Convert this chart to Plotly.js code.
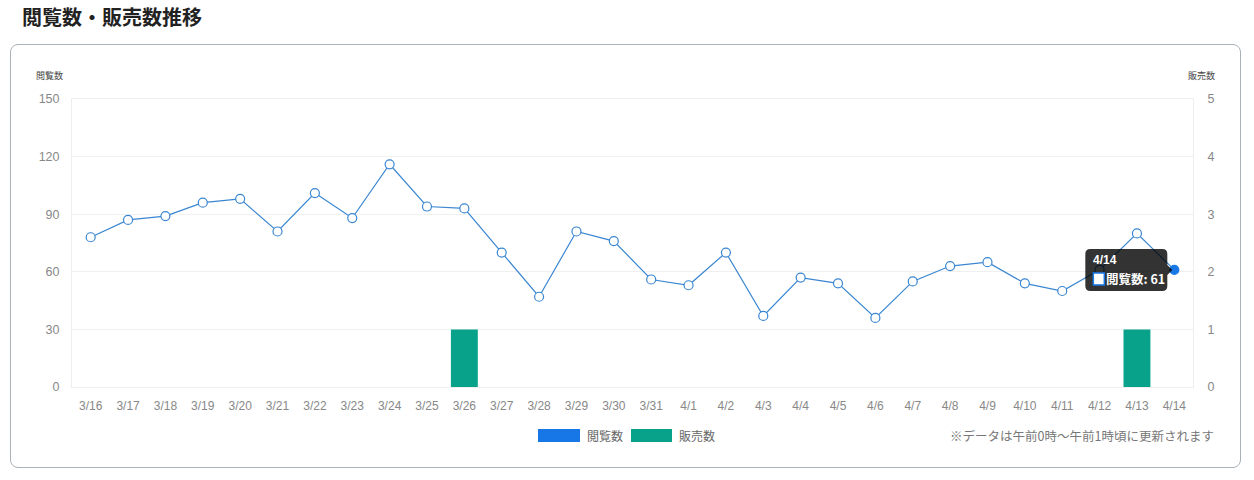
<!DOCTYPE html>
<html><head><meta charset="utf-8">
<script src="https://cdn.plot.ly/plotly-3.0.1.min.js"></script>
<style>
html,body{margin:0;padding:0;background:#fff;}
#wrap{position:relative;width:1254px;height:480px;}
#card{position:absolute;left:10px;top:44px;width:1229px;height:422px;border:1px solid #aab3b8;border-radius:8px;}
#chart{position:absolute;left:0;top:0;width:1254px;height:480px;}
</style></head>
<body><div id="wrap"><div id="card"></div><div id="chart"></div></div>
<script>
const dates = ['3/16','3/17','3/18','3/19','3/20','3/21','3/22','3/23','3/24','3/25','3/26','3/27','3/28','3/29','3/30','3/31','4/1','4/2','4/3','4/4','4/5','4/6','4/7','4/8','4/9','4/10','4/11','4/12','4/13','4/14'];
const views = [78,87,89,96,98,81,101,88,116,94,93,70,47,81,76,56,53,70,37,57,54,36,55,63,65,54,50,61,80,61];
const sales = [0,0,0,0,0,0,0,0,0,0,1,0,0,0,0,0,0,0,0,0,0,0,0,0,0,0,0,0,1,0];
const leftTicks = [0,30,60,90,120,150];
const rightTicks = [0,1,2,3,4,5];
const chartTitle = '閲覧数・販売数推移';
const viewsName = '閲覧数';
const salesName = '販売数';
const footnote = '※データは午前0時～午前1時頃に更新されます';
const hoverIndex = 29;

const BLUE = '#1877e6', LINE = '#3a86d1', GREEN = '#08a28a';
const FONT = 'Liberation Sans, Arial, Noto Sans CJK JP, sans-serif';
const JFONT = 'Noto Sans CJK JP, sans-serif';

// pixel -> paper helpers (plot area: x 72..1193, y 99..387)
const L=72, R=1193, T=99, B=387;
const pxX = x => (x-L)/(R-L);
const pxY = y => (B-y)/(B-T);

const markerColors = views.map((v,i)=> i===hoverIndex ? BLUE : '#ffffff');
const markerLineColors = views.map((v,i)=> i===hoverIndex ? BLUE : LINE);

const traces = [
  {type:'bar', x:dates, y:sales, yaxis:'y2', name:salesName, marker:{color:GREEN}, showlegend:false, hoverinfo:'skip'},
  {type:'scatter', mode:'lines+markers', x:dates, y:views, yaxis:'y', name:viewsName,
   line:{color:LINE, width:1.2},
   marker:{size:9, color:markerColors, line:{color:markerLineColors, width:1.2}},
   showlegend:false, hoverinfo:'skip'}
];

const hx = dates[hoverIndex], hy = views[hoverIndex];

const shapes = [
  {type:'path', xref:'x', yref:'y', xsizemode:'pixel', ysizemode:'pixel', xanchor:hx, yanchor:hy,
   path:'M -84 21 L -12 21 Q -7 21 -7 16 L -7 5 L -2 0 L -7 -5 L -7 -16 Q -7 -21 -12 -21 L -84 -21 Q -89 -21 -89 -16 L -89 16 Q -89 21 -84 21 Z',
   fillcolor:'rgba(0,0,0,0.8)', line:{width:0}, layer:'above'},
  {type:'rect', xref:'x', yref:'y', xsizemode:'pixel', ysizemode:'pixel', xanchor:hx, yanchor:hy,
   x0:-81, x1:-70, y0:-15, y1:-3, fillcolor:'#ffffff', line:{color:BLUE, width:1.5}, layer:'above'},
  {type:'rect', xref:'paper', yref:'paper', x0:pxX(538), x1:pxX(580), y0:pxY(442), y1:pxY(429), fillcolor:BLUE, line:{width:0}},
  {type:'rect', xref:'paper', yref:'paper', x0:pxX(631), x1:pxX(672), y0:pxY(442), y1:pxY(429), fillcolor:GREEN, line:{width:0}}
];

const annotations = [
  {xref:'paper', yref:'paper', x:pxX(49), y:pxY(75), text:viewsName, showarrow:false, xanchor:'center', yanchor:'middle', font:{family:JFONT, size:9, color:'#444'}},
  {xref:'paper', yref:'paper', x:pxX(1201), y:pxY(75), text:salesName, showarrow:false, xanchor:'center', yanchor:'middle', font:{family:JFONT, size:9, color:'#444'}},
  {xref:'paper', yref:'paper', x:pxX(585), y:pxY(435), text:viewsName, showarrow:false, xanchor:'left', yanchor:'middle', font:{family:JFONT, size:12, color:'#666'}},
  {xref:'paper', yref:'paper', x:pxX(677), y:pxY(435), text:salesName, showarrow:false, xanchor:'left', yanchor:'middle', font:{family:JFONT, size:12, color:'#666'}},
  {xref:'paper', yref:'paper', x:pxX(1216), y:pxY(435), text:footnote, showarrow:false, xanchor:'right', yanchor:'middle', font:{family:JFONT, size:12.5, color:'#777'}},
  {xref:'x', yref:'y', x:hx, y:hy, xshift:-83, yshift:10, text:'<b>'+hx+'</b>', showarrow:false, xanchor:'left', yanchor:'middle', font:{family:FONT, size:12, color:'#fff'}},
  {xref:'x', yref:'y', x:hx, y:hy, xshift:-70, yshift:-9, text:'<b>'+viewsName+': '+hy+'</b>', showarrow:false, xanchor:'left', yanchor:'middle', font:{family:JFONT, size:12.5, color:'#fff'}}
];

const layout = {
  width:1254, height:480,
  margin:{l:L, r:1254-R, t:T, b:480-B, pad:0},
  paper_bgcolor:'rgba(0,0,0,0)', plot_bgcolor:'rgba(0,0,0,0)',
  title:{text:'<b>'+chartTitle+'</b>', x:22/1254, xanchor:'left', xref:'container', y:1-18/480, yref:'container', yanchor:'middle', font:{family:JFONT, size:20, color:'#222'}},
  bargap:0.28,
  xaxis:{type:'category', range:[-0.5, dates.length-0.5], autorange:false, showgrid:false, zeroline:false, showline:true, linecolor:'#eeeeee', mirror:true,
         ticks:'outside', ticklen:8, tickcolor:'rgba(0,0,0,0)', tickfont:{family:FONT, size:12, color:'#888'}, fixedrange:true},
  yaxis:{range:[0,150], tickvals:leftTicks, showgrid:true, gridcolor:'#f0f0f0', zeroline:false, showline:true, linecolor:'#eeeeee',
         ticks:'outside', ticklen:9, tickcolor:'rgba(0,0,0,0)', tickfont:{family:FONT, size:12.5, color:'#888'}},
  yaxis2:{range:[0,5], tickvals:rightTicks, overlaying:'y', side:'right', showgrid:false, zeroline:false, showline:true, linecolor:'#eeeeee',
          ticks:'outside', ticklen:11, tickcolor:'rgba(0,0,0,0)', tickfont:{family:FONT, size:12.5, color:'#888'}},
  shapes:shapes, annotations:annotations, showlegend:false
};
Plotly.newPlot('chart', traces, layout, {displayModeBar:false, staticPlot:true});
</script></body></html>
